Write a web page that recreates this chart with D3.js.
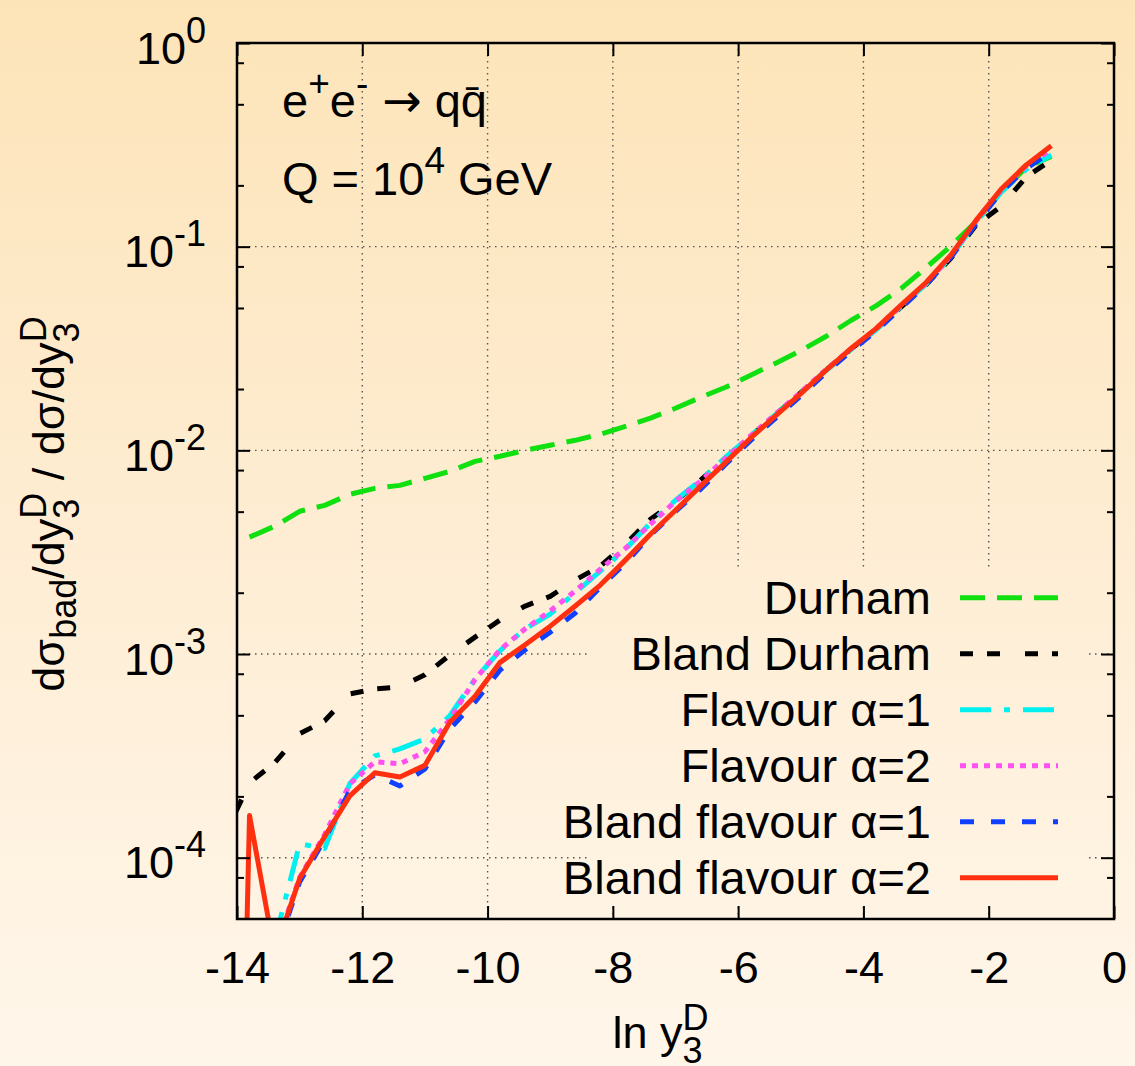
<!DOCTYPE html>
<html>
<head>
<meta charset="utf-8">
<script src="https://cdn.jsdelivr.net/npm/d3@7"></script>
<style>
  body { margin: 0; }
  svg text { font-family: "Liberation Sans", Arial, Helvetica, sans-serif; fill: #000; }
</style>
</head>
<body>
<svg width="1135" height="1066"></svg>
<script>
// ln y3 sample points (bin positions)
const lnY3 = [-14.2, -13.8, -13.4, -13.0, -12.6, -12.2, -11.8, -11.4, -11.0, -10.6, -10.2,
  -9.8, -9.4, -9.0, -8.6, -8.2, -7.8, -7.4, -7.0, -6.6, -6.2, -5.8, -5.4, -5.0, -4.6,
  -4.2, -3.8, -3.4, -3.0, -2.6, -2.2, -1.8, -1.4, -1.0];

const durham = [null, 3.75e-3, 4.24e-3, 5.02e-3, 5.37e-3, 6.08e-3, 6.51e-3, 6.73e-3, 7.29e-3,
  7.89e-3, 8.83e-3, 9.35e-3, 1.00e-2, 1.06e-2, 1.12e-2, 1.20e-2, 1.31e-2, 1.44e-2, 1.61e-2,
  1.82e-2, 2.04e-2, 2.34e-2, 2.68e-2, 3.09e-2, 3.62e-2, 4.34e-2, 5.12e-2, 6.22e-2, 7.89e-2,
  0.101, 0.133, 0.186, 0.245, 0.277];

const blandDurham = [1.28e-4, 2.33e-4, 2.92e-4, 4.06e-4, 4.70e-4, 6.37e-4, 6.73e-4, 6.89e-4,
  7.90e-4, 9.90e-4, 1.21e-3, 1.47e-3, 1.72e-3, 1.92e-3, 2.31e-3, 2.70e-3, 3.46e-3, 4.59e-3,
  5.62e-3, 7.13e-3, 9.14e-3, 1.17e-2, 1.50e-2, 1.92e-2, 2.47e-2, 3.14e-2, 3.92e-2, 5.05e-2,
  6.50e-2, 8.80e-2, 0.128, 0.158, 0.220, 0.266];

const flavour1 = [null, 2.0e-5, 3.9e-5, 1.17e-4, 1.11e-4, 2.31e-4, 3.16e-4, 3.42e-4, 3.83e-4,
  4.99e-4, 7.54e-4, 1.04e-3, 1.33e-3, 1.57e-3, 2.00e-3, 2.55e-3, 3.27e-3, 4.39e-3, 5.69e-3,
  7.13e-3, 9.25e-3, 1.18e-2, 1.50e-2, 1.91e-2, 2.46e-2, 3.12e-2, 3.90e-2, 5.08e-2, 6.55e-2,
  8.95e-2, 0.132, 0.185, 0.240, 0.282];

const flavour2 = [null, 2.0e-5, 3.5e-5, 8.0e-5, 1.30e-4, 2.30e-4, 2.96e-4, 2.89e-4, 3.31e-4,
  4.80e-4, 7.50e-4, 1.05e-3, 1.33e-3, 1.63e-3, 2.04e-3, 2.61e-3, 3.30e-3, 4.34e-3, 5.62e-3,
  7.05e-3, 9.14e-3, 1.18e-2, 1.51e-2, 1.93e-2, 2.49e-2, 3.15e-2, 3.95e-2, 5.12e-2, 6.60e-2,
  9.00e-2, 0.134, 0.190, 0.250, 0.300];

const blandFlavour1 = [null, 2.0e-5, 3.3e-5, 7.6e-5, 1.23e-4, 2.13e-4, 2.55e-4, 2.25e-4, 2.73e-4,
  4.29e-4, 5.82e-4, 8.35e-4, 1.05e-3, 1.28e-3, 1.59e-3, 2.13e-3, 2.79e-3, 3.83e-3, 5.02e-3,
  6.44e-3, 8.54e-3, 1.12e-2, 1.44e-2, 1.85e-2, 2.40e-2, 3.07e-2, 3.85e-2, 5.00e-2, 6.50e-2,
  8.90e-2, 0.130, 0.186, 0.242, 0.293];

const blandFlavour2 = [1e-9, 1.61e-4, 3.4e-5, 7.9e-5, 1.27e-4, 2.01e-4, 2.61e-4, 2.49e-4, 2.84e-4,
  4.64e-4, 6.20e-4, 9.10e-4, 1.11e-3, 1.37e-3, 1.72e-3, 2.18e-3, 2.89e-3, 3.87e-3, 5.08e-3,
  6.67e-3, 8.73e-3, 1.15e-2, 1.48e-2, 1.90e-2, 2.47e-2, 3.16e-2, 3.96e-2, 5.16e-2, 6.67e-2,
  9.14e-2, 0.135, 0.192, 0.252, 0.313];

const seriesNames = ['Durham', 'Bland Durham', 'Flavour \u03b1=1', 'Flavour \u03b1=2',
  'Bland flavour \u03b1=1', 'Bland flavour \u03b1=2'];
const seriesValues = [durham, blandDurham, flavour1, flavour2, blandFlavour1, blandFlavour2];

const xTicks = [-14, -12, -10, -8, -6, -4, -2, 0];
const yMajor = [1, 1e-1, 1e-2, 1e-3, 1e-4];
const yExponents = ['0', '-1', '-2', '-3', '-4'];
const yMinor = [0.8, 0.5, 0.2, 0.08, 0.05, 0.02, 0.008, 0.005, 0.002,
  8e-4, 5e-4, 2e-4, 8e-5];

const styles = [
  {color: '#10e010', dash: '25,12'},
  {color: '#000000', dash: '13,14,13,25'},
  {color: '#00f0f0', dash: '31,13,6,13'},
  {color: '#ff50f0', dash: '6,6'},
  {color: '#1040ff', dash: '14,17'},
  {color: '#ff3010', dash: null}
];

const svg = d3.select('svg');
const width = +svg.attr('width');
const height = +svg.attr('height');
const margin = {top: 43, right: 21, bottom: 147, left: 237};
const innerWidth = width - margin.left - margin.right;
const innerHeight = height - margin.top - margin.bottom;

// background gradient, once for the page and once in plot coordinates (key box)
const bgStops = [[0, '#fde4b8'], [0.5, '#feedd3'], [1, '#fff6ea']];
const defs = svg.append('defs');
[['bg', 0], ['bgInner', -margin.top]].forEach(([id, y0]) => {
  const lg = defs.append('linearGradient')
    .attr('id', id)
    .attr('gradientUnits', 'userSpaceOnUse')
    .attr('x1', 0).attr('y1', y0).attr('x2', 0).attr('y2', y0 + height);
  bgStops.forEach(s => lg.append('stop').attr('offset', s[0]).attr('stop-color', s[1]));
});

defs.append('clipPath').attr('id', 'plotclip')
  .append('rect').attr('width', innerWidth).attr('height', innerHeight);

svg.append('rect').attr('width', width).attr('height', height).attr('fill', 'url(#bg)');

const xScale = d3.scaleLinear().domain([-14, 0]).range([0, innerWidth]);
const yScale = d3.scaleLog().domain([5e-5, 1]).range([innerHeight, 0]);

const g = svg.append('g').attr('transform', `translate(${margin.left},${margin.top})`);

// grid
const grid = g.append('g')
  .attr('stroke', '#555')
  .attr('stroke-width', 1.4)
  .attr('stroke-dasharray', '1.5,4.5');
grid.selectAll('.gy').data(yMajor.slice(1)).enter().append('line')
  .attr('x1', 0).attr('x2', innerWidth)
  .attr('y1', d => yScale(d)).attr('y2', d => yScale(d));
grid.selectAll('.gx').data(xTicks.slice(1, -1)).enter().append('line')
  .attr('y1', 0).attr('y2', innerHeight)
  .attr('x1', d => xScale(d)).attr('x2', d => xScale(d));

// key area hides the grid
g.append('rect')
  .attr('x', 591 - margin.left).attr('y', 567 - margin.top)
  .attr('width', 494).attr('height', 340)
  .attr('fill', 'url(#bgInner)');

// curves
const line = d3.line()
  .defined(d => d.v != null)
  .x(d => xScale(d.x))
  .y(d => yScale(d.v));

const curves = g.append('g').attr('clip-path', 'url(#plotclip)');
seriesValues.forEach((vals, i) => {
  curves.append('path')
    .datum(lnY3.map((x, j) => ({x: x, v: vals[j]})))
    .attr('fill', 'none')
    .attr('stroke', styles[i].color)
    .attr('stroke-width', 5)
    .attr('stroke-linejoin', 'round')
    .attr('stroke-dasharray', styles[i].dash)
    .attr('d', line);
});

// axes (ticks inward on all four sides)
const xAxisG = g.append('g')
  .attr('transform', `translate(0,${innerHeight})`)
  .call(d3.axisBottom(xScale).tickValues(xTicks).tickSize(-13).tickPadding(32)
    .tickFormat(d => String(d)));
g.append('g')
  .call(d3.axisTop(xScale).tickValues(xTicks).tickSize(-13).tickFormat(''));

const yAxisG = g.append('g')
  .call(d3.axisLeft(yScale).tickValues(yMajor).tickSize(-13).tickPadding(31).tickFormat(''));
g.append('g')
  .call(d3.axisLeft(yScale).tickValues(yMinor).tickSize(-7).tickFormat(''));
g.append('g').attr('transform', `translate(${innerWidth},0)`)
  .call(d3.axisRight(yScale).tickValues(yMajor).tickSize(-13).tickFormat(''));
g.append('g').attr('transform', `translate(${innerWidth},0)`)
  .call(d3.axisRight(yScale).tickValues(yMinor).tickSize(-7).tickFormat(''));

g.selectAll('.domain').remove();
g.selectAll('.tick line').attr('stroke', '#000').attr('stroke-width', 2);

xAxisG.selectAll('.tick text')
  .attr('font-size', 45)
  .attr('font-family', null)
  .attr('fill', '#000');

yAxisG.selectAll('.tick text').each(function(d, i) {
  const t = d3.select(this)
    .attr('font-size', 45)
    .attr('font-family', null)
    .attr('fill', '#000')
    .attr('dy', null)
    .attr('y', 20)
    .text(null);
  t.append('tspan').text('10');
  t.append('tspan').attr('font-size', 36).attr('dy', -21).text(yExponents[i]);
});

// frame
g.append('rect')
  .attr('width', innerWidth).attr('height', innerHeight)
  .attr('fill', 'none').attr('stroke', '#000').attr('stroke-width', 2.5);

// key
const key = g.append('g');
seriesNames.forEach((name, i) => {
  const ly = 597.7 - margin.top + i * 56;
  key.append('text')
    .attr('x', 931 - margin.left).attr('y', ly + 16)
    .attr('text-anchor', 'end')
    .attr('font-size', 47)
    .text(name);
  key.append('line')
    .attr('x1', 960 - margin.left).attr('x2', 1058 - margin.left)
    .attr('y1', ly).attr('y2', ly)
    .attr('stroke', styles[i].color)
    .attr('stroke-width', 5)
    .attr('stroke-dasharray', styles[i].dash);
});

// annotations
const a1 = svg.append('text').attr('x', 282).attr('y', 117).attr('font-size', 47);
a1.append('tspan').text('e');
a1.append('tspan').attr('font-size', 37).attr('dy', -21).text('+');
a1.append('tspan').attr('dy', 21).text('e');
a1.append('tspan').attr('font-size', 37).attr('dy', -21).text('-');
a1.append('tspan').attr('dy', 21).attr('dx', 14)
  .attr('font-family', '"DejaVu Sans", sans-serif').text('\u2192');
a1.append('tspan').text(' qq\u0304');

const a2 = svg.append('text').attr('x', 282).attr('y', 195).attr('font-size', 47);
a2.append('tspan').text('Q = 10');
a2.append('tspan').attr('font-size', 37).attr('dy', -22).text('4');
a2.append('tspan').attr('dy', 22).text(' GeV');

// axis titles
const xl = svg.append('text')
  .attr('x', margin.left + innerWidth / 2 - 15).attr('y', 1048)
  .attr('text-anchor', 'middle').attr('font-size', 45);
xl.append('tspan').text('ln y');
xl.append('tspan').attr('font-size', 36).attr('dy', 15).text('3');
xl.append('tspan').attr('font-size', 36).attr('dx', -20).attr('dy', -33).text('D');

const yl = svg.append('text')
  .attr('transform', 'translate(64,504) rotate(-90)')
  .attr('text-anchor', 'middle').attr('font-size', 45);
yl.append('tspan').text('d\u03c3');
yl.append('tspan').attr('font-size', 36).attr('dy', 12).text('bad');
yl.append('tspan').attr('dy', -12).text('/dy');
yl.append('tspan').attr('font-size', 36).attr('dy', 15).text('3');
yl.append('tspan').attr('font-size', 36).attr('dx', -20).attr('dy', -33).text('D');
yl.append('tspan').attr('dy', 18).text(' / d\u03c3/dy');
yl.append('tspan').attr('font-size', 36).attr('dy', 15).text('3');
yl.append('tspan').attr('font-size', 36).attr('dx', -20).attr('dy', -33).text('D');
</script>
</body>
</html>
